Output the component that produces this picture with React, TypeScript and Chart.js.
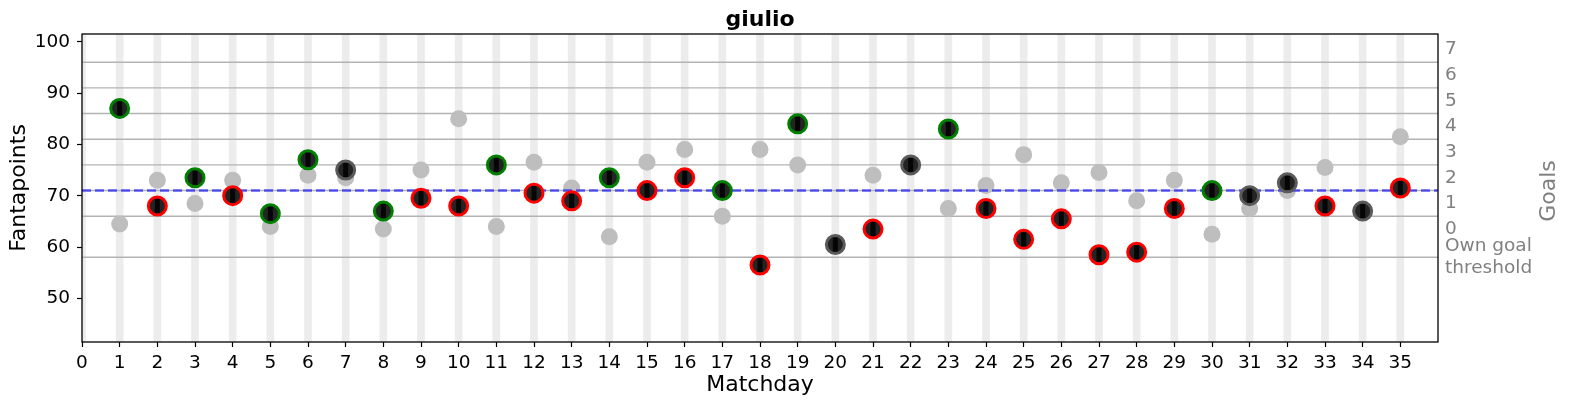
import React, { useEffect, useRef } from 'react';
import { Chart, registerables } from 'chart.js';

Chart.register(...registerables);

const FONT = "'DejaVu Sans', sans-serif";

const matchdays = [1, 2, 3, 4, 5, 6, 7, 8, 9, 10, 11, 12, 13, 14, 15, 16, 17, 18, 19, 20, 21, 22, 23, 24, 25, 26, 27, 28, 29, 30, 31, 32, 33, 34, 35];
const xTickValues = [0, 1, 2, 3, 4, 5, 6, 7, 8, 9, 10, 11, 12, 13, 14, 15, 16, 17, 18, 19, 20, 21, 22, 23, 24, 25, 26, 27, 28, 29, 30, 31, 32, 33, 34, 35];

const fantapoints = [87, 68, 73.5, 70, 66.5, 77, 75, 67, 69.5, 68, 76, 70.5, 69, 73.5, 71, 73.5, 71, 56.5, 84, 60.5, 63.5, 76, 83, 67.5, 61.5, 65.5, 58.5, 59, 67.5, 71, 70, 72.5, 68, 67, 71.5];
const opponentPoints = [64.5, 73, 68.5, 73, 64, 74, 73.5, 63.5, 75, 85, 64, 76.5, 71.5, 62, 76.5, 79, 66, 79, 76, 60.5, 74, 76, 67.5, 72, 78, 72.5, 74.5, 69, 73, 62.5, 67.5, 71, 75.5, 67, 81.5];
const results = ['W', 'L', 'W', 'L', 'W', 'W', 'D', 'W', 'L', 'L', 'W', 'L', 'L', 'W', 'L', 'L', 'W', 'L', 'W', 'D', 'L', 'D', 'W', 'L', 'L', 'L', 'L', 'L', 'L', 'W', 'D', 'D', 'L', 'D', 'L'];

const goalLines = [58, 66, 71, 76, 81, 86, 91, 96];
const averageLine = 71;
const leftTickValues = [50, 60, 70, 80, 90, 100];
const rightTickValues = [58, 63.5, 68.5, 73.5, 78.5, 83.5, 88.5, 93.5, 98.5];
const rightTickLabels: (string | string[])[] = [['Own goal', 'threshold'], '0', '1', '2', '3', '4', '5', '6', '7'];

const Y_MIN = 41.5;
const Y_MAX = 101.5;
const X_MIN = 0;
const X_MAX = 36;

const resultColors: Record<string, string> = { W: '#008000', L: '#ff0000', D: '#5a5a5a' };

const decor = {
  id: 'decor',
  afterDraw(chart: any) {
    const { ctx, chartArea: a } = chart;
    ctx.save();
    ctx.strokeStyle = '#000';
    ctx.lineWidth = 1.3;
    ctx.strokeRect(a.left, a.top, a.right - a.left, a.bottom - a.top);
    ctx.fillStyle = '#000';
    ctx.font = `bold 22px ${FONT}`;
    ctx.textAlign = 'center';
    ctx.textBaseline = 'middle';
    ctx.fillText('giulio', (a.left + a.right) / 2, 20);
    ctx.translate(1549, 191);
    ctx.rotate(-Math.PI / 2);
    ctx.fillStyle = '#808080';
    ctx.font = `22px ${FONT}`;
    ctx.fillText('Goals', 0, 0);
    ctx.restore();
  },
};

export default function App() {
  const ref = useRef<HTMLCanvasElement>(null);
  useEffect(() => {
    document.body.style.margin = '0';
    const canvas = ref.current!;
    const datasets: any[] = [];
    datasets.push({
      type: 'bar',
      data: xTickValues.map((v) => ({ x: v, y: [Y_MIN, Y_MAX] })),
      backgroundColor: '#ececec',
      borderWidth: 0,
      barThickness: 7,
      grouped: false,
      clip: 0,
      order: 10,
    });
    goalLines.forEach((g) => {
      datasets.push({
        type: 'line',
        data: [{ x: X_MIN, y: g }, { x: X_MAX, y: g }],
        borderColor: '#b3b3b3',
        borderWidth: 1.4,
        pointRadius: 0,
        clip: 0,
        order: 9,
      });
    });
    datasets.push({
      type: 'scatter',
      data: matchdays.map((m, i) => ({ x: m, y: opponentPoints[i] })),
      backgroundColor: '#bebebe',
      borderWidth: 0,
      pointRadius: 8.5,
      order: 7,
    });
    datasets.push({
      type: 'line',
      data: [{ x: X_MIN, y: averageLine }, { x: X_MAX, y: averageLine }],
      borderColor: 'rgba(0,0,255,0.6)',
      borderWidth: 2.5,
      borderDash: [9, 4],
      pointRadius: 0,
      clip: 0,
      order: 6,
    });
    datasets.push({
      type: 'scatter',
      data: matchdays.map((m, i) => ({ x: m, y: fantapoints[i] })),
      backgroundColor: '#242424',
      borderColor: results.map((r) => resultColors[r]),
      borderWidth: 3,
      pointRadius: 9,
      order: 3,
    });
    datasets.push({
      type: 'scatter',
      data: matchdays.map((m, i) => ({ x: m, y: fantapoints[i] })),
      pointStyle: 'line',
      rotation: 90,
      borderColor: '#050505',
      borderWidth: 5,
      pointRadius: 7,
      order: 2,
    });

    const chart = new Chart(canvas, {
      type: 'scatter',
      data: { datasets },
      plugins: [decor],
      options: {
        responsive: false,
        animation: false,
        devicePixelRatio: 1,
        layout: { padding: { top: 34, left: 0, right: 0, bottom: 0 } },
        plugins: {
          legend: { display: false },
          tooltip: { enabled: false },
          title: { display: false },
        },
        scales: {
          x: {
            type: 'linear',
            position: 'bottom',
            min: X_MIN,
            max: X_MAX,
            offset: false,
            afterBuildTicks: (s: any) => {
              s.ticks = xTickValues.map((v) => ({ value: v }));
            },
            afterFit: (s: any) => {
              s.height = 64;
            },
            ticks: {
              autoSkip: false,
              maxRotation: 0,
              padding: 5,
              color: '#000',
              font: { family: FONT, size: 18.5 },
              callback: (v: any) => String(v),
            },
            grid: { display: true, offset: false, drawOnChartArea: false, drawTicks: true, tickLength: 5, tickColor: '#000', tickWidth: 1.2 },
            border: { display: false },
            title: { display: true, text: 'Matchday', color: '#000', font: { family: FONT, size: 22 }, padding: { top: 0, bottom: 8 } },
          },
          y: {
            type: 'linear',
            position: 'left',
            min: Y_MIN,
            max: Y_MAX,
            afterBuildTicks: (s: any) => {
              s.ticks = leftTickValues.map((v) => ({ value: v }));
            },
            afterFit: (s: any) => {
              s.width = 82;
            },
            ticks: { padding: 7, color: '#000', font: { family: FONT, size: 18.5 }, callback: (v: any) => String(v) },
            grid: { display: true, drawOnChartArea: false, drawTicks: true, tickLength: 5, tickColor: '#000', tickWidth: 1.2 },
            border: { display: false },
            title: { display: true, text: 'Fantapoints', color: '#000', font: { family: FONT, size: 22 }, padding: { top: 6, bottom: 0 } },
          },
          y2: {
            type: 'linear',
            position: 'right',
            min: Y_MIN,
            max: Y_MAX,
            afterBuildTicks: (s: any) => {
              s.ticks = rightTickValues.map((v) => ({ value: v }));
            },
            afterFit: (s: any) => {
              s.width = 132;
            },
            ticks: {
              autoSkip: false,
              padding: 7,
              color: '#808080',
              font: { family: FONT, size: 18.5 },
              callback: (_v: any, i: number) => rightTickLabels[i],
            },
            grid: { display: false, drawTicks: false, tickLength: 0 },
            border: { display: false },
            title: { display: false },
          },
        },
      } as any,
    });
    return () => chart.destroy();
  }, []);
  return <canvas ref={ref} width={1570} height={406} style={{ display: 'block', width: '1570px', height: '406px' }} />;
}
